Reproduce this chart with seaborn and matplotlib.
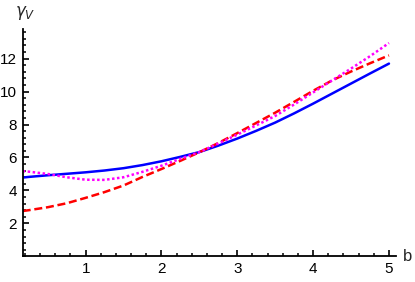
import numpy as np
import pandas as pd
import seaborn as sns
import matplotlib.pyplot as plt
from matplotlib.ticker import MultipleLocator

b = [0.17, 0.25, 0.5, 0.75, 1.0, 1.25, 1.5, 1.75, 2.0, 2.25, 2.5,
     2.75, 3.0, 3.25, 3.5, 3.75, 4.0, 4.25, 4.5, 4.75, 5.0]
gamma_blue = [4.78, 4.82, 4.92, 5.01, 5.10, 5.21, 5.35, 5.54, 5.77, 6.04, 6.33,
              6.72, 7.15, 7.62, 8.12, 8.68, 9.27, 9.88, 10.49, 11.10, 11.70]
gamma_red = [2.75, 2.80, 2.98, 3.22, 3.55, 3.90, 4.30, 4.82, 5.30, 5.80, 6.32,
             6.88, 7.48, 8.10, 8.72, 9.38, 10.05, 10.68, 11.22, 11.72, 12.20]
gamma_magenta = [5.17, 5.14, 5.00, 4.80, 4.65, 4.64, 4.80, 5.13, 5.50, 5.92, 6.33,
                 6.85, 7.39, 7.95, 8.52, 9.22, 9.95, 10.68, 11.40, 12.15, 12.95]

sns.set_style('white')
plt.rcParams['font.family'] = ['Liberation Sans', 'DejaVu Sans']
plt.rcParams['mathtext.fontset'] = 'dejavusans'

fig = plt.figure(figsize=(4.15, 2.82), dpi=100)
ax = fig.add_axes([0.0547, 0.0911, 0.899, 0.806])

sns.lineplot(x=b, y=gamma_blue, color='#0000ff', linewidth=1.8, ax=ax)
sns.lineplot(x=b, y=gamma_red, color='#ff0000', linewidth=1.8, ax=ax)
sns.lineplot(x=b, y=gamma_magenta, color='#ff00ff', linewidth=1.8, ax=ax)
lines = ax.get_lines()
lines[1].set_dashes((3.2, 1.5))
lines[2].set_dashes((1.0, 1.0))

ax.set_xlim(0.17, 5.09)
ax.set_ylim(0, 13.8)

for side in ['top', 'right']:
    ax.spines[side].set_visible(False)
for side in ['left', 'bottom']:
    ax.spines[side].set_linewidth(1.3)
    ax.spines[side].set_color('black')

ax.xaxis.set_major_locator(MultipleLocator(1))
ax.xaxis.set_minor_locator(MultipleLocator(0.2))
ax.yaxis.set_major_locator(MultipleLocator(2))
ax.yaxis.set_minor_locator(MultipleLocator(0.4))
ax.set_yticks([2, 4, 6, 8, 10, 12])
ax.tick_params(which='major', direction='in', length=4.5, width=1.2, labelsize=11,
               colors='black', pad=4)
ax.tick_params(which='minor', direction='in', length=2.5, width=1.1, colors='black')
ax.tick_params(axis='both', which='both', bottom=True, left=True)

ax.text(1.02, 0.0, 'b', transform=ax.transAxes, fontsize=12,
        ha='left', va='center')
ax.text(-0.02, 1.07, r'$\gamma_V$', transform=ax.transAxes, fontsize=12,
        ha='left', va='center')

fig.savefig('out.png', dpi=100)
